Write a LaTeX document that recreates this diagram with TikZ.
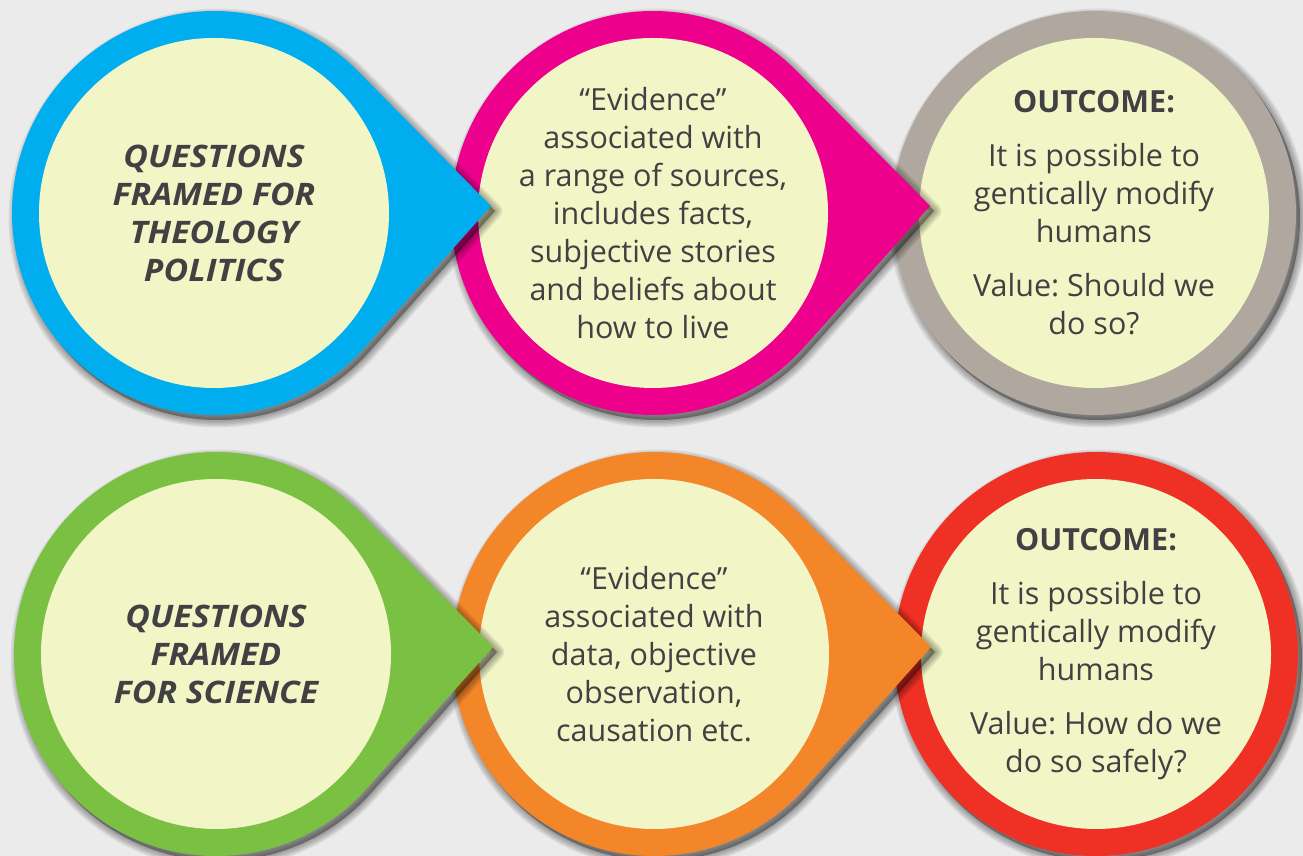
\documentclass[tikz,border=0pt]{standalone}
\usepackage{fontspec}
\setmainfont{Open Sans}
\newfontfamily\ttlfont[FakeStretch=1.09]{Open Sans}
\frenchspacing
\definecolor{bgc}{HTML}{EBEBEB}
\definecolor{cblue}{HTML}{00AEEF}
\definecolor{cpink}{HTML}{EC008C}
\definecolor{cgray}{HTML}{B0A89E}
\definecolor{cgreen}{HTML}{7AC143}
\definecolor{corange}{HTML}{F4862A}
\definecolor{cred}{HTML}{EE3124}
\definecolor{cinner}{HTML}{F2F6C6}
\definecolor{ctxt}{HTML}{414042}
\newcommand\pinshape[1]{\path[#1] (277,7) -- (44.64:202) arc[start angle=44.64, end angle=318.26, radius=202] -- cycle;}
\newcommand\roundshape[1]{\path[#1] (0,0) circle[radius=202];}
% #1 name, #2 position, #3 colour, #4 shape macro
\newcommand\shapeat[4]{%
  \coordinate (#1) at #2;
  \begin{scope}[shift={(#1)}]
    \begin{scope}[shift={(4,-5)}]
      #4{fill=black, opacity=0.35}
      \foreach \w in {3,6,9,12,15} {#4{draw=black, line width=\w, line join=round, opacity=0.07}}
    \end{scope}
    #4{fill=#3}
    \fill[cinner] (0,0) circle[radius=175];
  \end{scope}}
\tikzset{
  lbl/.style={text=ctxt, align=center, inner sep=0pt, font=\fontsize{30.5}{38}\selectfont\frenchspacing},
  ttl/.style={lbl, font=\ttlfont\fontsize{31}{38}\selectfont\bfseries\itshape}
}
\begin{document}
\begin{tikzpicture}[x=1pt,y=1pt]
\fill[bgc] (0,0) rectangle (1303,856);
\useasboundingbox (0,0) rectangle (1303,856);
% bottom row (drawn right to left)
\shapeat{cR}{(1096,202)}{cred}{\roundshape}
\shapeat{cO}{(654,202)}{corange}{\pinshape}
\shapeat{cG}{(216,202)}{cgreen}{\pinshape}
% top row
\shapeat{cY}{(1094,643)}{cgray}{\roundshape}
\shapeat{cP}{(653,643)}{cpink}{\pinshape}
\shapeat{cB}{(214,643)}{cblue}{\pinshape}
% texts
\node[ttl] (tB) at (cB) {QUESTIONS\\FRAMED FOR\\THEOLOGY\\POLITICS};
\node[lbl] (tP) at (cP) {“Evidence”\\associated with\\a range of sources,\\includes facts,\\subjective stories\\and beliefs about\\how to live};
\node[lbl] (tY) at (cY) {\textbf{OUTCOME:}\\[16pt]It is possible to\\gentically modify\\humans\\[16pt]Value: Should we\\do so?};
\node[ttl] (tG) at (cG) {QUESTIONS\\FRAMED\\FOR SCIENCE};
\node[lbl] (tO) at (cO) {“Evidence”\\associated with\\data, objective\\observation,\\causation etc.};
\node[lbl] (tR) at (cR) {\textbf{OUTCOME:}\\[16pt]It is possible to\\gentically modify\\humans\\[16pt]Value: How do we\\do so safely?};
\end{tikzpicture}
\end{document}
